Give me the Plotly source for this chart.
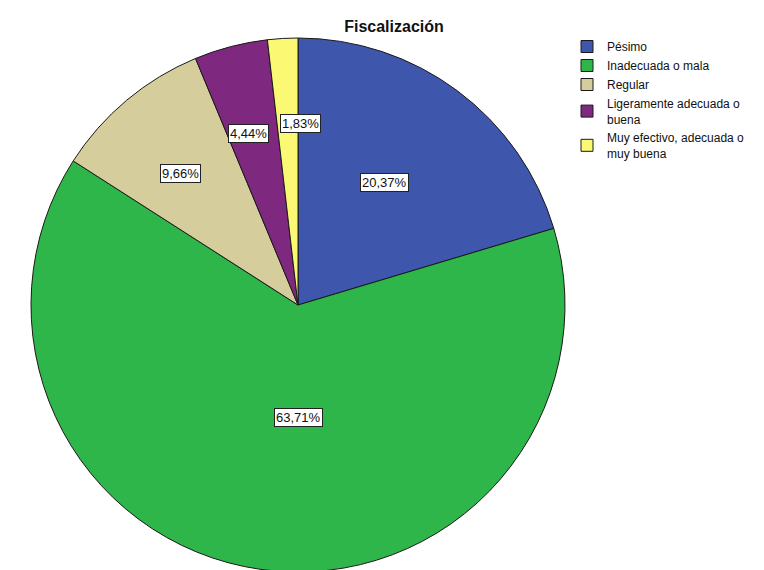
import math
import plotly.graph_objects as go

categories = ["Pésimo", "Inadecuada o mala", "Regular",
              "Ligeramente adecuada o<br>buena", "Muy efectivo, adecuada o<br>muy buena"]
percentages = [20.37, 63.71, 9.66, 4.44, 1.83]
colors = ["#3e56ab", "#2fb64a", "#d5cd9b", "#7e297f", "#fbf873"]
title_text = "Fiscalización"

W, H = 764, 570
OFF = 8  # page body margin offset
cx_px, cy_px, r_px = 298 - OFF, 305 - OFF, 267
label_radius = [0.56, 0.42, 0.66, 0.67, 0.68]
label_angle_shift = [-1.5, -8.0, -2.0, -1.5, 4.0]  # degrees, label placement tweak

fig = go.Figure()
fig.add_trace(go.Pie(
    labels=categories,
    values=percentages,
    sort=False,
    direction="clockwise",
    rotation=0,
    textinfo="none",
    hoverinfo="label+percent",
    marker=dict(colors=colors, line=dict(color="#1a1a1a", width=1)),
    domain=dict(x=[(cx_px - r_px) / W, (cx_px + r_px) / W],
                y=[(H - cy_px - r_px) / H, (H - cy_px + r_px) / H]),
))

total = sum(percentages)
cum = 0.0
annotations = []
for v, f, da in zip(percentages, label_radius, label_angle_shift):
    mid = (cum + v / 2) / total * 2 * math.pi + math.radians(da)
    cum += v
    x = (cx_px + f * r_px * math.sin(mid)) / W
    y = (H - cy_px + f * r_px * math.cos(mid)) / H
    annotations.append(dict(
        x=x, y=y, xref="paper", yref="paper", showarrow=False,
        text=f"{v:.2f}".replace(".", ",") + "%",
        font=dict(family="Liberation Sans, Arial, sans-serif", size=13, color="#111"),
        bgcolor="white", bordercolor="#222", borderwidth=1, borderpad=1,
        xanchor="center", yanchor="middle",
    ))

fig.update_layout(
    width=W, height=H,
    margin=dict(l=0, r=0, t=0, b=0),
    paper_bgcolor="white",
    plot_bgcolor="white",
    title=dict(text=f"<b>{title_text}</b>", x=(394 - OFF) / W, y=1 - (26 - OFF) / H,
               xanchor="center", yanchor="middle",
               font=dict(family="Liberation Sans, Arial, sans-serif", size=16, color="#111")),
    legend=dict(x=(567 - OFF) / W, y=1 - 24 / H, xanchor="left", yanchor="top",
                font=dict(family="Liberation Sans, Arial, sans-serif", size=12, color="#111"),
                bgcolor="rgba(0,0,0,0)", tracegroupgap=0, itemclick=False),
    annotations=annotations,
)

fig.write_html("out.html")
